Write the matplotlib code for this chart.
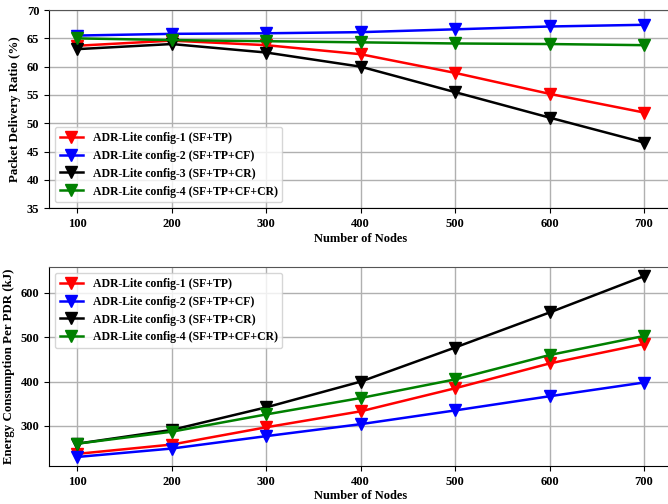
import numpy as np
import matplotlib
matplotlib.use('Agg')
import matplotlib.pyplot as plt

plt.rcParams['font.family'] = ['Liberation Serif', 'DejaVu Serif']
plt.rcParams['font.weight'] = 'bold'

nodes = [100, 200, 300, 400, 500, 600, 700]
labels = ['ADR-Lite config-1 (SF+TP)', 'ADR-Lite config-2 (SF+TP+CF)',
          'ADR-Lite config-3 (SF+TP+CR)', 'ADR-Lite config-4 (SF+TP+CF+CR)']
colores = ['red', 'blue', 'black', 'green']

# Packet delivery ratio (%)
pdr_c1 = [63.7, 64.6, 63.8, 62.2, 58.9, 55.2, 51.9]
pdr_c2 = [65.5, 65.8, 65.9, 66.1, 66.6, 67.1, 67.4]
pdr_c3 = [63.1, 64.0, 62.5, 60.0, 55.5, 51.0, 46.6]
pdr_c4 = [65.0, 64.7, 64.5, 64.3, 64.1, 64.0, 63.8]

# Energy consumption per PDR (kJ)
ene_c1 = [237, 258, 297, 333, 385, 441, 485]
ene_c2 = [230, 249, 277, 304, 335, 367, 398]
ene_c3 = [260, 291, 342, 400, 477, 556, 638]
ene_c4 = [260, 287, 326, 363, 405, 460, 503]

fig = plt.figure(figsize=(6.68, 5.04), dpi=100)
ax1 = fig.add_axes([0.0734, 0.587, 0.933, 0.393])
ax2 = fig.add_axes([0.0734, 0.0754, 0.933, 0.3946])

def dibujar(ax, series, ylabel, loc):
    for s, lab, c in zip(series, labels, colores):
        ax.plot(nodes, s, color=c, marker='v', markersize=8, linewidth=1.8, label=lab)
    ax.grid(True, color='#b0b0b0', linewidth=1)
    ax.set_axisbelow(True)
    ax.set_xticks(nodes)
    ax.set_xlim(70, 730)
    ax.set_xlabel('Number of Nodes', fontsize=9, fontweight='bold', labelpad=2)
    ax.set_ylabel(ylabel, fontsize=9.3, fontweight='bold')
    ax.tick_params(labelsize=9)
    ax.spines['top'].set_color('#555555')
    ax.spines['right'].set_visible(False)
    ax.legend(loc=loc, prop={'weight': 'bold', 'size': 8.5})

dibujar(ax1, [pdr_c1, pdr_c2, pdr_c3, pdr_c4], 'Packet Delivery Ratio (%)', 'lower left')
ax1.set_ylim(35, 70)

dibujar(ax2, [ene_c1, ene_c2, ene_c3, ene_c4], 'Energy Consumption Per PDR (kJ)', 'upper left')
ax2.set_yticks([300, 400, 500, 600])

fig.savefig('out.png', dpi=100)
